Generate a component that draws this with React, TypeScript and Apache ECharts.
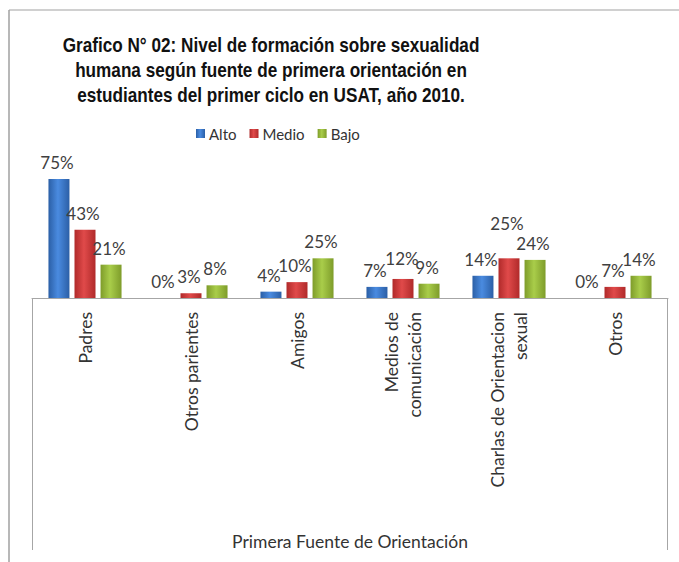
import React, { useEffect, useRef } from "react";
import * as echarts from "echarts";

const categories = [
  "Padres",
  "Otros parientes",
  "Amigos",
  "Medios de\ncomunicación",
  "Charlas de Orientacion\nsexual",
  "Otros",
];
const alto = [75, 0, 4, 7, 14, 0];
const medio = [43, 3, 10, 12, 25, 7];
const bajo = [21, 8, 25, 9, 24, 14];
const seriesNames = ["Alto", "Medio", "Bajo"];
const titleText =
  "Grafico N° 02: Nivel de formación sobre sexualidad\nhumana según fuente de primera orientación en\nestudiantes del primer ciclo en USAT, año 2010.";
const axisName = "Primera Fuente de Orientación";

const FONT = "Lato, 'Open Sans', sans-serif";

function grad(edge: string, mid: string) {
  return new echarts.graphic.LinearGradient(0, 0, 1, 0, [
    { offset: 0, color: edge },
    { offset: 0.45, color: mid },
    { offset: 1, color: edge },
  ]);
}

export default function App() {
  const ref = useRef<HTMLDivElement>(null);
  useEffect(() => {
    if (!ref.current) return;
    const chart = echarts.init(ref.current, undefined, { renderer: "svg" });
    const label = {
      show: true,
      position: "top" as const,
      distance: 8,
      offset: [-2, 0],
      formatter: "{c}%",
      fontSize: 17,
      fontFamily: FONT,
      color: "#404040",
    };
    const mk = (
      name: string,
      data: (number | object)[],
      edge: string,
      mid: string
    ) => ({
      name,
      type: "bar" as const,
      data,
      barWidth: 21,
      barGap: "24%",
      itemStyle: { color: grad(edge, mid) },
      label,
    });
    const medioData = medio.map((v, i) =>
      i === 4
        ? { value: v, label: { offset: [-2, -18] } }
        : i === 3
        ? { value: v, label: { offset: [-1, -4] } }
        : v
    );
    chart.setOption({
      animation: false,
      backgroundColor: "#ffffff",
      legend: {
        data: seriesNames,
        left: 191,
        top: 121,
        itemWidth: 9,
        itemHeight: 9,
        itemGap: 13,
        icon: "rect",
        textStyle: { fontSize: 15, fontFamily: FONT, color: "#333", padding: [0, 0, 0, -1] },
      },
      grid: { left: 32, right: 11, top: 171, bottom: 264, containLabel: false },
      xAxis: {
        type: "category",
        data: categories,
        axisTick: { show: false },
        axisLine: { show: true, lineStyle: { color: "#a6a6a6", width: 1 } },
        axisLabel: {
          rotate: 90,
          margin: 14,
          interval: 0,
          fontSize: 17.5,
          fontFamily: FONT,
          color: "#333",
          lineHeight: 23,
        },
        name: axisName,
        nameLocation: "middle",
        nameGap: 234,
        nameTextStyle: { fontSize: 17.5, fontFamily: FONT, color: "#333" },
      },
      yAxis: { type: "value", min: 0, max: 80, show: false, splitLine: { show: false } },
      series: [
        mk(seriesNames[0], alto, "#2b5fa6", "#4a8be0"),
        mk(seriesNames[1], medioData, "#b02a2a", "#e04a4a"),
        mk(seriesNames[2], bajo, "#7e9c2a", "#a9cd4a"),
      ],
      graphic: [
        {
          type: "line",
          shape: { x1: 9, y1: 10, x2: 679, y2: 10 },
          style: { stroke: "#c0c0c0", lineWidth: 1.5 },
        },
        {
          type: "line",
          shape: { x1: 9, y1: 10, x2: 9, y2: 562 },
          style: { stroke: "#a0a0a0", lineWidth: 1.5 },
        },
        {
          type: "line",
          shape: { x1: 32.5, y1: 298, x2: 32.5, y2: 550 },
          style: { stroke: "#a6a6a6", lineWidth: 1 },
        },
        {
          type: "line",
          shape: { x1: 667.5, y1: 298, x2: 667.5, y2: 550 },
          style: { stroke: "#a6a6a6", lineWidth: 1 },
        },
        {
          type: "text",
          x: 271,
          y: 33,
          scaleX: 0.88,
          style: {
            text: titleText,
            textAlign: "center",
            fontSize: 19.5,
            fontWeight: "bold",
            fontFamily: "'Liberation Sans', Arial, sans-serif",
            lineHeight: 25,
            fill: "#111",
          },
        },
      ],
    });
    return () => chart.dispose();
  }, []);
  return (
    <div
      ref={ref}
      style={{ position: "absolute", left: 0, top: 0, width: 679, height: 562 }}
    />
  );
}
